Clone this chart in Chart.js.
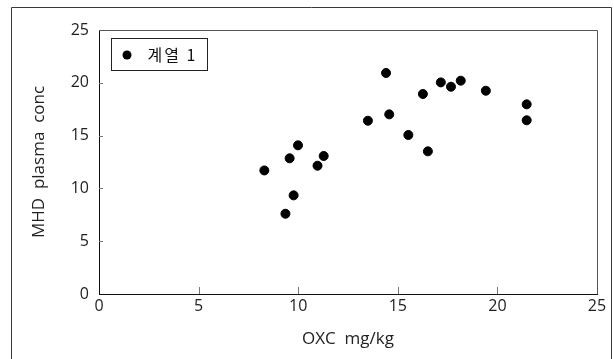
<!DOCTYPE html>
<html>
<head>
<meta charset="utf-8">
<script src="https://cdn.jsdelivr.net/npm/chart.js@4"></script>
<style>
  html, body { margin: 0; padding: 0; background: #fff; }
  #wrap { width: 614px; height: 359px; }
</style>
</head>
<body>
<div id="wrap"><canvas id="myChart" width="614" height="359"></canvas></div>
<script>
// data
const seriesName = "계열 1";
const oxcDose = [8.3, 9.57, 9.99, 9.77, 9.36, 10.97, 11.28, 13.5, 14.41, 14.57, 15.53, 16.26, 16.51, 17.16, 17.67, 18.16, 19.42, 21.47, 21.47];
const mhdConc = [11.7, 12.85, 14.08, 9.34, 7.6, 12.15, 13.07, 16.41, 20.93, 17.01, 15.06, 18.94, 13.51, 20.04, 19.63, 20.2, 19.25, 17.96, 16.45];
const xTitle = "OXC  mg/kg";
const yTitle = "MHD  plasma  conc";

const labelFont = "'Open Sans'";

// 점 목록
const points = oxcDose.map((x, i) => ({ x: x, y: mhdConc[i] }));

// 안쪽 눈금, 테두리, 범례 상자
const framePlugin = {
  id: "frame",
  beforeDraw(chart) {
    const c = chart.ctx;
    c.save();
    c.strokeStyle = "#3a3a3a";
    c.lineWidth = 1;
    c.beginPath();
    c.moveTo(11.5, 359);
    c.lineTo(11.5, 7.5);
    c.lineTo(611.5, 7.5);
    c.lineTo(611.5, 359);
    c.stroke();
    c.restore();
  },
  afterDatasetsDraw(chart) {
    const c = chart.ctx;
    const a = chart.chartArea;
    const xs = chart.scales.x;
    const ys = chart.scales.y;
    c.save();
    // top and right edge
    c.strokeStyle = "#555";
    c.lineWidth = 1;
    c.beginPath();
    c.moveTo(a.left, a.top + 0.5);
    c.lineTo(a.right + 0.5, a.top + 0.5);
    c.lineTo(a.right + 0.5, a.bottom);
    c.stroke();
    // inward ticks
    c.strokeStyle = "#777";
    c.beginPath();
    xs.ticks.forEach(t => {
      if (t.value <= xs.min || t.value >= xs.max) return;
      const px = Math.round(xs.getPixelForValue(t.value)) + 0.5;
      c.moveTo(px, a.bottom);
      c.lineTo(px, a.bottom - 7);
    });
    ys.ticks.forEach(t => {
      if (t.value <= ys.min || t.value >= ys.max) return;
      const py = Math.round(ys.getPixelForValue(t.value)) + 0.5;
      c.moveTo(a.left, py);
      c.lineTo(a.left + 4, py);
    });
    c.stroke();
    // legend box
    const bx = a.left + 12.5, by = a.top + 8.5, bw = 96, bh = 32;
    c.strokeStyle = "#222";
    c.strokeRect(bx, by, bw, bh);
    c.fillStyle = "#000";
    c.beginPath();
    c.arc(bx + 15.5, by + 16.5, 4.5, 0, Math.PI * 2);
    c.fill();
    c.font = "16px 'Noto Sans CJK KR'";
    c.letterSpacing = "2px";
    c.textBaseline = "middle";
    c.fillStyle = "#111";
    c.fillText(chart.data.datasets[0].label, bx + 36, by + 16.5);
    c.restore();
  }
};

const context = document.getElementById("myChart").getContext("2d");
const myChart = new Chart(context, {
  type: "scatter",
  data: {
    datasets: [
      {
        label: seriesName,
        data: points,
        backgroundColor: "#000",
        borderColor: "#000",
        pointRadius: 4.5,
        pointHoverRadius: 4.5,
      },
    ],
  },
  options: {
    responsive: false,
    animation: false,
    events: [],
    layout: {
      padding: { left: 0, top: 30, right: 17, bottom: 0 },
    },
    plugins: {
      legend: { display: false },
      tooltip: { enabled: false },
    },
    scales: {
      x: {
        type: "linear",
        min: 0,
        max: 25,
        ticks: { stepSize: 5, padding: 3, color: "#222", font: { family: labelFont, size: 16 } },
        grid: { display: false, drawTicks: false },
        border: { display: true, color: "#111", width: 1 },
        title: {
          display: true,
          text: xTitle,
          color: "#222",
          font: { family: labelFont, size: 17 },
          padding: { top: 0, bottom: 10 },
        },
        afterFit(scale) { scale.height = 65; },
      },
      y: {
        type: "linear",
        min: 0,
        max: 25,
        ticks: { stepSize: 5, padding: 10, color: "#222", font: { family: labelFont, size: 16 } },
        grid: { display: false, drawTicks: false },
        border: { display: true, color: "#111", width: 1 },
        title: {
          display: true,
          text: yTitle,
          color: "#222",
          font: { family: labelFont, size: 17 },
          padding: { top: 29, bottom: 0 },
        },
        afterFit(scale) { scale.width = 99; },
      },
    },
  },
  plugins: [framePlugin],
});
</script>
</body>
</html>
